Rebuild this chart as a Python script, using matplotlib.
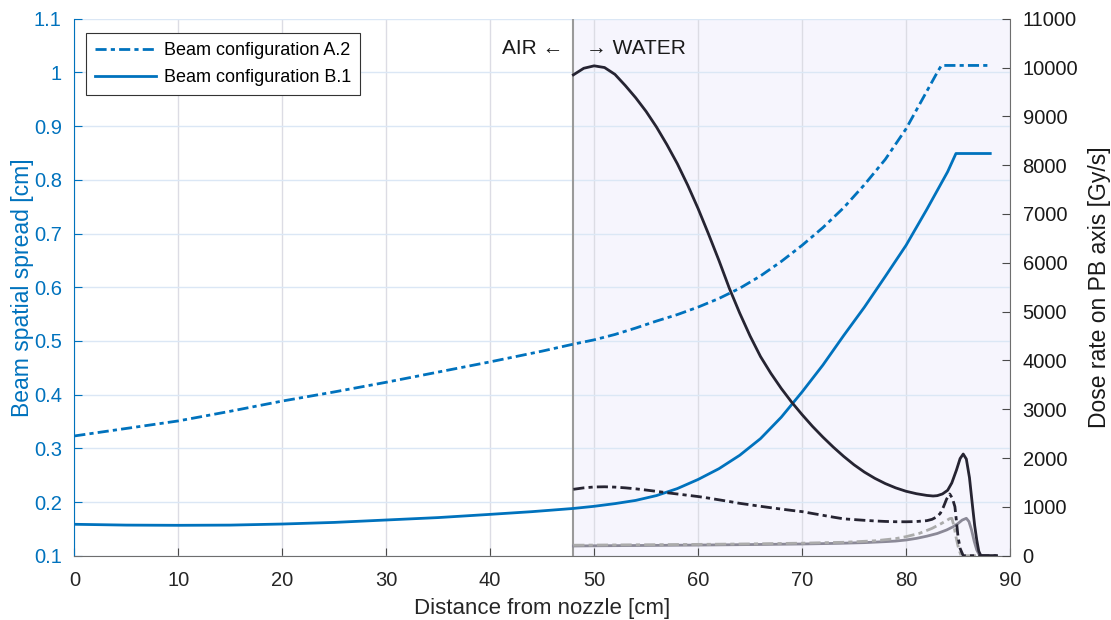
import matplotlib
matplotlib.use("Agg")
import matplotlib.pyplot as plt
from matplotlib.ticker import FormatStrFormatter, MultipleLocator

plt.rcParams["font.family"] = ["Liberation Sans", "DejaVu Sans"]

# beam spatial spread [cm] vs distance from nozzle [cm]
x_a2 = [0, 5, 10, 15, 20, 25, 30, 35, 40, 45, 48, 50, 52, 54, 56, 58, 60, 62, 64, 66, 68,
        70, 72, 74, 76, 78, 80, 81, 82, 83, 83.4, 88.1]
spread_a2 = [0.323, 0.337, 0.351, 0.369, 0.388, 0.405, 0.423, 0.442, 0.461, 0.481, 0.494,
             0.502, 0.512, 0.524, 0.537, 0.549, 0.563, 0.579, 0.598, 0.621, 0.648, 0.678,
             0.711, 0.748, 0.791, 0.838, 0.895, 0.930, 0.965, 1.000, 1.013, 1.013]

x_b1 = [0, 5, 10, 15, 20, 25, 30, 35, 40, 44, 48, 50, 52, 54, 56, 58, 60, 62, 64, 66, 68,
        70, 72, 74, 76, 78, 80, 82, 84, 84.8, 88.1]
spread_b1 = [0.1585, 0.157, 0.1566, 0.157, 0.159, 0.162, 0.1665, 0.171, 0.177, 0.182, 0.188,
             0.192, 0.197, 0.203, 0.212, 0.225, 0.242, 0.262, 0.287, 0.318, 0.358, 0.405,
             0.455, 0.510, 0.563, 0.620, 0.678, 0.745, 0.815, 0.849, 0.849]

# dose rate on PB axis [Gy/s]
x_dose_b1 = [48, 49, 50, 51, 52, 53, 54, 55, 56, 57, 58, 59, 60, 61, 62, 63, 64, 65, 66,
             67, 68, 69, 70, 71, 72, 73, 74, 75, 76, 77, 78, 79, 80, 81, 82, 82.6, 83, 83.5,
             84, 84.4, 84.85, 85.2, 85.5, 85.8, 86.1, 86.4, 86.6, 86.8, 87.0, 87.2, 88.7]
dose_b1 = [9850, 9985, 10035, 10000, 9860, 9630, 9380, 9100, 8780, 8420, 8030, 7590, 7110,
           6590, 6050, 5480, 4970, 4500, 4080, 3735, 3425, 3145, 2890, 2650, 2430, 2225,
           2035, 1862, 1712, 1585, 1478, 1390, 1320, 1270, 1235, 1223, 1230, 1265, 1340,
           1490, 1755, 1990, 2083, 1980, 1600, 1004, 620, 322, 90, 0, 0]

x_dose_a2 = [48, 49, 50, 51, 52, 53, 54, 55, 56, 57, 58, 59, 60, 61, 62, 63, 64, 65, 66, 67,
             68, 69, 70, 71, 72, 73, 74, 75, 76, 77, 78, 79, 80, 81, 82, 82.5, 83, 83.3,
             83.6, 83.9, 84.2, 84.45, 84.7, 84.85, 85.0, 85.2, 85.5, 88.7]
dose_a2 = [1360, 1390, 1408, 1412, 1405, 1390, 1370, 1345, 1318, 1290, 1264, 1238, 1212,
           1180, 1145, 1110, 1073, 1043, 1012, 983, 955, 928, 903, 865, 828, 790, 755, 740,
           725, 712, 702, 696, 695, 700, 718, 745, 800, 870, 1000, 1160, 1264, 1180, 1004,
           700, 389, 150, 0, 0]

x_dose_b1_low = [48, 50, 55, 60, 65, 70, 73.6, 76, 77, 78, 79, 80, 81, 82, 83, 83.9, 84.5,
                 85, 85.4, 85.8, 86.05, 86.3, 86.55, 86.8, 87.1, 88.7]
dose_b1_low = [199, 203, 210, 218, 228, 240, 254, 268, 278, 288, 300, 322, 355, 400, 455,
               527, 590, 660, 730, 766, 700, 527, 300, 117, 0, 0]

x_dose_a2_low = [48, 55, 60, 65, 70, 74, 77, 79, 80, 81.3, 82.5, 83.4, 83.9, 84.2, 84.4,
                 84.6, 84.8, 85.05, 85.3, 88.7]
dose_a2_low = [215, 225, 232, 242, 257, 275, 305, 350, 390, 459, 560, 660, 720, 760, 766,
               620, 389, 150, 0, 0]

water_start = 48

blue = "#0072BD"
dark = "#262432"
dashdot = (0, (4, 1.5, 1.5, 1.5))

fig = plt.figure(figsize=(11.11, 6.2), dpi=100)
ax = fig.add_axes([0.0669, 0.1037, 0.8422, 0.8661])
ax2 = ax.twinx()

ax.axvspan(water_start, 90, color="#f6f5fd", zorder=0, lw=0)
ax.axvline(water_start, color="#9a9a9a", lw=1.5, zorder=1.6)

ax.plot(x_a2, spread_a2, color=blue, lw=2, ls=dashdot, label="Beam configuration A.2", zorder=3)
ax.plot(x_b1, spread_b1, color=blue, lw=2, label="Beam configuration B.1", zorder=3)

ax2.plot(x_dose_b1_low, dose_b1_low, color="#8b8997", lw=2)
ax2.plot(x_dose_a2_low, dose_a2_low, color="#ababab", lw=2, ls=dashdot)
ax2.plot(x_dose_a2, dose_a2, color=dark, lw=2, ls=dashdot)
ax2.plot(x_dose_b1, dose_b1, color=dark, lw=2)

ax.set_xlim(0, 90)
ax.set_ylim(0.1, 1.1)
ax2.set_ylim(0, 11000)
ax.xaxis.set_major_locator(MultipleLocator(10))
ax.yaxis.set_major_locator(MultipleLocator(0.1))
ax.yaxis.set_major_formatter(FormatStrFormatter("%g"))
ax2.yaxis.set_major_locator(MultipleLocator(1000))

ax.grid(axis="x", color="#dcdce4", lw=1)
ax.grid(axis="y", color="#dbe7f5", lw=1)

for a in (ax, ax2):
    a.spines["top"].set_visible(False)
ax.spines["left"].set_color(blue)
ax.spines["bottom"].set_color("#6e6e6e")
ax.spines["right"].set_visible(False)
ax2.spines["left"].set_visible(False)
ax2.spines["bottom"].set_visible(False)
ax2.spines["right"].set_color("#6e6e6e")

ax.tick_params(axis="y", direction="in", colors=blue, labelsize=14.5, length=6, pad=9)
ax.tick_params(axis="x", direction="in", color="#4a4a4a", labelcolor="#262626",
               labelsize=14.5, length=6, pad=11)
ax2.tick_params(axis="y", direction="in", color="#4a4a4a", labelcolor="#1a1a1a",
                labelsize=14.5, length=6, pad=9)

ax.set_xlabel("Distance from nozzle [cm]", fontsize=16, color="#262626", labelpad=6)
ax.set_ylabel("Beam spatial spread [cm]", fontsize=16.5, color=blue, labelpad=0)
ax2.set_ylabel("Dose rate on PB axis [Gy/s]", fontsize=16.5, color="#1a1a1a", labelpad=7)

ax.text(water_start - 1.0, 1.045, "AIR \u2190", ha="right", va="center", fontsize=15,
        color="#1a1a1a")
ax.text(water_start + 1.2, 1.045, "\u2192 WATER", ha="left", va="center", fontsize=15,
        color="#1a1a1a")

leg = ax.legend(loc="upper left", bbox_to_anchor=(0.0125, 0.9734), borderaxespad=0,
                fontsize=13, handlelength=3.4, frameon=True, fancybox=False,
                edgecolor="#333333", framealpha=1, borderpad=0.5, labelspacing=0.55,
                handletextpad=0.4)
leg.get_frame().set_linewidth(0.8)

fig.savefig("out.png", dpi=100)
